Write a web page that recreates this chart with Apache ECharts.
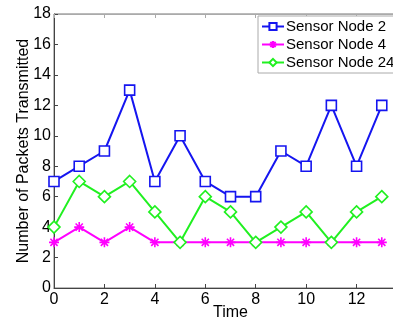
<!DOCTYPE html>
<html>
    <head>
        <meta charset="utf-8">
        <title>Packets Transmitted</title>
        <script src="https://cdn.jsdelivr.net/npm/echarts@6/dist/echarts.min.js"></script>
    </head>
    <body style="margin:0;background:#fff;">
        <div id="main" style="width: 393px;height:320px;"></div>
        <script type="text/javascript">
            var myChart = echarts.init(document.getElementById('main'));

            // data
            var times = [0, 1, 2, 3, 4, 5, 6, 7, 8, 9, 10, 11, 12, 13];
            var node2 = [7, 8, 9, 13, 7, 10, 7, 6, 6, 9, 8, 12, 8, 12];
            var node4 = [3, 4, 3, 4, 3, 3, 3, 3, 3, 3, 3, 3, 3, 3];
            var node24 = [4, 7, 6, 7, 5, 3, 6, 5, 3, 4, 5, 3, 5, 6];
            var seriesNames = ['Sensor Node 2', 'Sensor Node 4', 'Sensor Node 24'];

            function pairs(vals) {
                var out = [];
                for (var i = 0; i < vals.length; i++) {
                    out.push([times[i], vals[i]]);
                }
                return out;
            }

            var star = 'path://M0,-5L0,5M-5,0L5,0M-3.6,-3.6L3.6,3.6M-3.6,3.6L3.6,-3.6';
            var font = 'Liberation Sans';

            function makeSeries(name, vals, color, symbol, size) {
                return {
                    name: name,
                    type: 'line',
                    data: pairs(vals),
                    symbol: symbol,
                    symbolSize: size,
                    showAllSymbol: true,
                    lineStyle: { color: color, width: 2 },
                    itemStyle: { color: symbol == star ? color : '#fff', borderColor: color, borderWidth: 1.6 },
                    animation: false
                };
            }

            var option = {
                backgroundColor: '#fff',
                textStyle: { fontFamily: font },
                grid: {
                    left: 54, top: 14, width: 353, height: 274,
                    outerBoundsMode: 'none', containLabel: false,
                    show: true, borderColor: '#777', borderWidth: 1
                },
                legend: {
                    data: seriesNames,
                    orient: 'vertical',
                    left: 258, top: 16,
                    backgroundColor: '#fff',
                    borderColor: '#aaa', borderWidth: 1,
                    padding: [3, 20, 3, 3],
                    itemGap: 3,
                    itemWidth: 22, itemHeight: 9,
                    textStyle: { fontFamily: font, fontSize: 15, lineHeight: 15, color: '#000', padding: [0, 0, 0, -3] }
                },
                xAxis: [{
                    type: 'value', min: 0, max: 14, interval: 2,
                    name: 'Time', nameLocation: 'middle', nameGap: 17, nameMoveOverlap: false,
                    nameTextStyle: { fontSize: 16, color: '#000', fontFamily: font },
                    axisLine: { lineStyle: { color: '#444' } },
                    axisTick: { inside: true, length: 4, lineStyle: { color: '#444' } },
                    axisLabel: { color: '#000', fontSize: 16, margin: 4, fontFamily: font },
                    splitLine: { show: false }
                }, {
                    type: 'value', position: 'top', min: 0, max: 14, interval: 2,
                    axisLine: { lineStyle: { color: '#aaa' } },
                    axisTick: { inside: true, length: 4, lineStyle: { color: '#aaa' } },
                    axisLabel: { show: false },
                    splitLine: { show: false }
                }],
                yAxis: {
                    type: 'value', min: 0, max: 18, interval: 2,
                    name: 'Number of Packets Transmitted', nameLocation: 'middle', nameGap: 22, nameMoveOverlap: false,
                    nameTextStyle: { fontSize: 16, color: '#000', fontFamily: font },
                    axisLine: { show: true, lineStyle: { color: '#444' } },
                    axisTick: { show: true, inside: true, length: 4, lineStyle: { color: '#444' } },
                    axisLabel: { color: '#000', fontSize: 16, margin: 3, fontFamily: font },
                    splitLine: { show: false }
                },
                series: [
                    makeSeries(seriesNames[0], node2, '#1515f0', 'rect', 10),
                    makeSeries(seriesNames[1], node4, '#ff00ff', star, 10),
                    makeSeries(seriesNames[2], node24, '#20f020', 'diamond', 12)
                ]
            };

            myChart.setOption(option);
        </script>
    </body>
</html>
